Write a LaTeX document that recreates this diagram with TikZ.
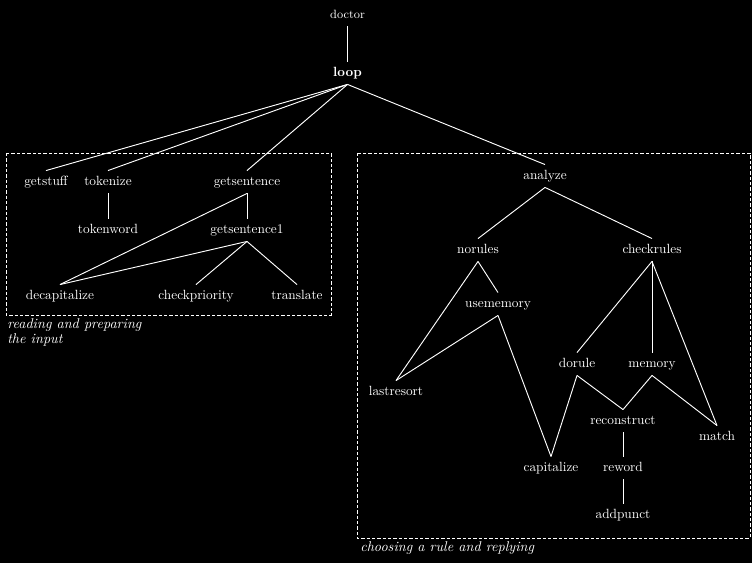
\documentclass[tikz,border=0pt]{standalone}
\begin{document}
\begin{tikzpicture}[x=0.75pt,y=-0.75pt]
	% Styles
	\tikzset{call/.style={text=white, inner xsep=1pt, inner ysep=4.5pt, text height=1.5ex, text depth=0.3ex}}
	\tikzset{calls/.style={draw=white, line width=0.7pt}}
	\tikzset{part/.style={draw=white, line width=0.7pt, dash pattern=on 2.5pt off 1.5pt}}
	\tikzset{partname/.style={text=white, font=\fontsize{10.6}{11.4}\selectfont\itshape, anchor=north west, inner sep=0pt, align=left}}

	% Background
	\fill[black] (0,0) rectangle (752,563);

	% Top of the graph
	\node[call, font=\small] (doctor) at (347.5,15) {doctor};
	\node[call, font=\bfseries] (loop) at (347.5,73) {loop};

	% Reading and preparing the input
	\node[call] (getstuff) at (46,182) {getstuff};
	\node[call] (tokenize) at (108,182) {tokenize};
	\node[call] (getsentence) at (247,182) {getsentence};
	\node[call] (tokenword) at (108,230) {tokenword};
	\node[call] (getsentence1) at (247,230) {getsentence1};
	\node[call] (decapitalize) at (60,296) {decapitalize};
	\node[call] (checkpriority) at (196,296) {checkpriority};
	\node[call] (translate) at (297,296) {translate};

	% Choosing a rule and replying
	\node[call] (analyze) at (545,176) {analyze};
	\node[call] (norules) at (478,250) {norules};
	\node[call] (checkrules) at (652,250) {checkrules};
	\node[call] (usememory) at (498,304) {usememory};
	\node[call] (lastresort) at (396,392) {lastresort};
	\node[call] (dorule) at (577,364) {dorule};
	\node[call] (memory) at (652,364) {memory};
	\node[call] (reconstruct) at (623,421) {reconstruct};
	\node[call] (match) at (717,437) {match};
	\node[call] (capitalize) at (551,468) {capitalize};
	\node[call] (reword) at (623,468) {reword};
	\node[call] (addpunct) at (623,515) {addpunct};

	% Draw the calls
	\draw[calls] (doctor.south) -- (loop.north);
	\draw[calls] (loop.south) -- (getstuff.north);
	\draw[calls] (loop.south) -- (tokenize.north);
	\draw[calls] (loop.south) -- (getsentence.north);
	\draw[calls] (loop.south) -- (analyze.north);

	\draw[calls] (tokenize.south) -- (tokenword.north);
	\draw[calls] (getsentence.south) -- (getsentence1.north);
	\draw[calls] (getsentence.south) -- (decapitalize.north);
	\draw[calls] (getsentence1.south) -- (decapitalize.north);
	\draw[calls] (getsentence1.south) -- (checkpriority.north);
	\draw[calls] (getsentence1.south) -- (translate.north);

	\draw[calls] (analyze.south) -- (norules.north);
	\draw[calls] (analyze.south) -- (checkrules.north);
	\draw[calls] (norules.south) -- (lastresort.north);
	\draw[calls] (norules.south) -- (usememory.north);
	\draw[calls] (usememory.south) -- (lastresort.north);
	\draw[calls] (usememory.south) -- (capitalize.north);
	\draw[calls] (checkrules.south) -- (dorule.north);
	\draw[calls] (checkrules.south) -- (memory.north);
	\draw[calls] (checkrules.south) -- (match.north);
	\draw[calls] (dorule.south) -- (capitalize.north);
	\draw[calls] (dorule.south) -- (reconstruct.north);
	\draw[calls] (memory.south) -- (reconstruct.north);
	\draw[calls] (memory.south) -- (match.north);
	\draw[calls] (reconstruct.south) -- (reword.north);
	\draw[calls] (reword.south) -- (addpunct.north);

	% Dashed boxes round the two parts
	\draw[part] (6,153) rectangle (331,315);
	\draw[part] (357,153) rectangle (750,538);

	\node[partname] (reading) at (7,318) {reading and preparing\\the input};
	\node[partname] (choosing) at (360,541) {choosing a rule and replying};
\end{tikzpicture}
\end{document}
